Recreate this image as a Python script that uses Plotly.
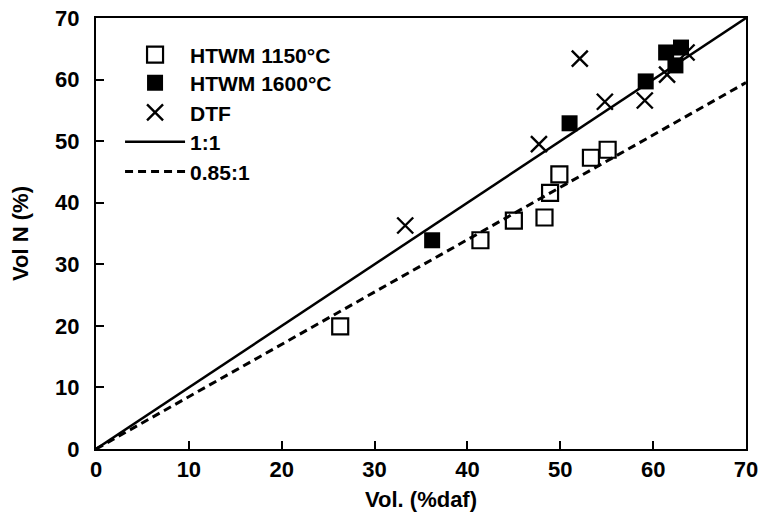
import plotly.graph_objects as go

# HTWM 1150°C (open squares)
htwm1150_x = [26.3, 41.4, 45.0, 48.3, 48.9, 49.9, 53.3, 55.1]
htwm1150_y = [19.9, 33.9, 37.1, 37.6, 41.6, 44.6, 47.3, 48.6]

# HTWM 1600°C (filled squares)
htwm1600_x = [36.2, 51.0, 59.2, 61.4, 63.0, 62.4]
htwm1600_y = [33.9, 52.9, 59.7, 64.4, 65.2, 62.3]

# DTF (crosses)
dtf_x = [33.3, 47.7, 52.1, 54.8, 59.1, 61.5, 63.6]
dtf_y = [36.3, 49.5, 63.4, 56.4, 56.6, 60.8, 64.4]

# reference lines
line_x = [0, 70]
ratio_11 = 1.0
ratio_085 = 0.85

x_ticks = [0, 10, 20, 30, 40, 50, 60, 70]
y_ticks = [0, 10, 20, 30, 40, 50, 60, 70]

FONT = "Arial, Liberation Sans, sans-serif"
FS = 22

fig = go.Figure()
fig.add_trace(go.Scatter(
    x=htwm1150_x, y=htwm1150_y, mode="markers", name="HTWM 1150°C", legend="legend",
    marker=dict(symbol="square-open", size=16, color="black", line=dict(width=2.2, color="black"))))
fig.add_trace(go.Scatter(
    x=htwm1600_x, y=htwm1600_y, mode="markers", name="HTWM 1600°C", legend="legend2",
    marker=dict(symbol="square", size=16, color="black", line=dict(width=0))))
fig.add_trace(go.Scatter(
    x=dtf_x, y=dtf_y, mode="markers", name="DTF", legend="legend3",
    marker=dict(symbol="x-thin-open", size=16, color="black", line=dict(width=2.4, color="black"))))
fig.add_trace(go.Scatter(
    x=line_x, y=[v * ratio_11 for v in line_x], mode="lines", name="1:1", legend="legend4",
    line=dict(color="black", width=2.5)))
fig.add_trace(go.Scatter(
    x=line_x, y=[v * ratio_085 for v in line_x], mode="lines", name="0.85:1", legend="legend5",
    line=dict(color="black", width=3, dash="8px,5px")))


def legend_row(yc):
    return dict(x=0.037, y=yc, xanchor="left", yanchor="middle",
                bgcolor="rgba(0,0,0,0)", borderwidth=0,
                font=dict(size=21, weight="bold"), itemwidth=60)


fig.update_layout(
    width=760, height=531,
    margin=dict(l=96, r=14, t=18, b=82),
    paper_bgcolor="white", plot_bgcolor="white",
    font=dict(family=FONT, size=FS, color="black", weight="bold"),
    showlegend=True,
    legend=legend_row(0.914),
    legend2=legend_row(0.849),
    legend3=legend_row(0.780),
    legend4=legend_row(0.712),
    legend5=legend_row(0.643),
    xaxis=dict(range=[0, 70], tickvals=x_ticks, ticks="inside", ticklen=8, tickwidth=2,
               tickcolor="black", showline=True, linewidth=2, linecolor="black", mirror=True,
               showgrid=False, zeroline=False, automargin=False,
               tickfont=dict(size=FS, weight="bold"),
               title=dict(text="Vol. (%daf)", font=dict(size=FS, weight="bold"), standoff=10)),
    yaxis=dict(range=[0, 70], tickvals=y_ticks, ticks="inside", ticklen=8, tickwidth=2,
               tickcolor="black", showline=True, linewidth=2, linecolor="black", mirror=True,
               showgrid=False, zeroline=False, automargin=False, ticklabelstandoff=10,
               tickfont=dict(size=FS, weight="bold"),
               title=dict(text="Vol N (%)", font=dict(size=FS, weight="bold"), standoff=20)),
)

fig.write_html("out.html", config={"displayModeBar": False},
               post_script="document.body.style.margin='0';")
